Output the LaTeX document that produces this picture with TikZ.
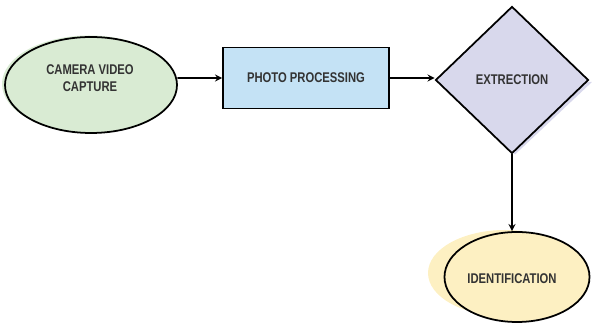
\documentclass[tikz,border=0pt]{standalone}
\usepackage{fontspec}
\setmainfont{Liberation Sans}[FakeStretch=0.8]
\usetikzlibrary{shapes.geometric}
\definecolor{camgreen}{HTML}{D9EBD3}
\definecolor{procblue}{HTML}{C4E2F5}
\definecolor{extlav}{HTML}{D8D8EC}
\definecolor{idyellow}{HTML}{FDF0C2}
\definecolor{txtgray}{HTML}{333333}

\begin{document}
\begin{tikzpicture}[line cap=round,every node/.style={font=\bfseries\fontsize{8}{10}\selectfont,text=txtgray,align=center}]
\tikzset{outl/.style={draw=black,line width=1pt},conn/.style={->,>=stealth,line width=0.8pt}}
\useasboundingbox (0,0) rectangle (11.84,-6.48);
% soft halos behind the shapes
\fill[camgreen] (1.78,-1.68) ellipse (1.74 and 0.97);
\fill[extlav] (10.30,-1.62) -- (10.30+1.54,-1.62-0.02) -- (10.30,-1.62-1.47) -- (10.30-1.53,-1.62) -- cycle;
\fill[idyellow] (10.10,-5.46) ellipse (1.54 and 0.86);
% nodes
\node[ellipse,outl,fill=camgreen,inner sep=0pt,minimum width=3.44cm,minimum height=1.92cm] (cam) at (1.82,-1.70) {};
\node at (1.80,-1.56) {CAMERA VIDEO\\CAPTURE};
\node[rectangle,outl,fill=procblue,minimum width=3.32cm,minimum height=1.22cm] (proc) at (6.12,-1.56) {PHOTO PROCESSING};
\node[diamond,outl,fill=extlav,inner sep=0pt,minimum width=3.06cm,minimum height=2.94cm] (ext) at (10.24,-1.60) {EXTRECTION};
\node[ellipse,outl,fill=idyellow,inner sep=0pt,minimum width=2.90cm,minimum height=1.80cm] (ident) at (10.34,-5.54) {};
\node at (10.24,-5.58) {IDENTIFICATION};
% connectors
\draw[conn] (proc.west -| cam.east) -- (proc.west);
\draw[conn] (proc.east) -- (proc.east -| ext.west);
\draw[conn] (ext.south) -- (ext.south |- ident.north);
\end{tikzpicture}
\end{document}
